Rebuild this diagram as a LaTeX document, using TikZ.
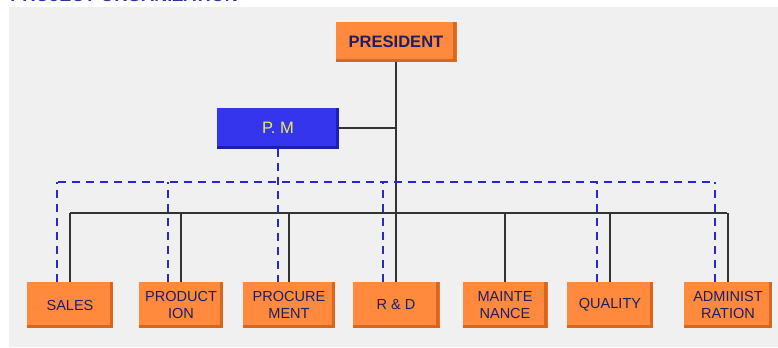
\documentclass[tikz,border=0pt]{standalone}
\usepackage{fontspec}
\setmainfont{Liberation Sans}
\definecolor{panel}{HTML}{F0F0F0}
\definecolor{boxor}{HTML}{FF8A3D}
\definecolor{boxdk}{HTML}{D9661E}
\definecolor{pmblue}{HTML}{3535EE}
\definecolor{pmdk}{HTML}{1E1EB0}
\definecolor{navy}{HTML}{1E1E66}
\definecolor{dashblue}{HTML}{2828C8}
\definecolor{titleblue}{HTML}{3030A0}
\definecolor{pmtext}{HTML}{EEEE50}
\begin{document}
\begin{tikzpicture}[x=0.75pt,y=-0.75pt,
  unitbox/.style={inner sep=0pt, align=center, text=navy,
    font=\fontsize{10.9}{12.75}\selectfont,
    minimum height=34.5pt, fill=boxor,
    path picture={
      \fill[boxdk] ([xshift=-2.5pt]path picture bounding box.north east) rectangle (path picture bounding box.south east);
      \fill[boxdk] ([yshift=2.5pt]path picture bounding box.south west) rectangle (path picture bounding box.south east);
    }},
  topbox/.style={unitbox, font=\bfseries\fontsize{12.4}{14}\selectfont, minimum width=90.75pt, minimum height=30pt},
  pmbox/.style={inner sep=0pt, text=pmtext, fill=pmblue, font=\fontsize{12.4}{14}\selectfont,
    minimum width=91.5pt, minimum height=30.75pt,
    path picture={
      \fill[pmdk] ([xshift=-2pt]path picture bounding box.north east) rectangle (path picture bounding box.south east);
      \fill[pmdk] ([yshift=2pt]path picture bounding box.south west) rectangle (path picture bounding box.south east);
    }},
  solidline/.style={draw=black!80, line width=1.1pt},
  dashline/.style={draw=dashblue, line width=1.5pt, dash pattern=on 6pt off 4.5pt},
]
\useasboundingbox (0,0) rectangle (778,347);
\fill[panel] (9,7) rectangle (778,347);
\node[anchor=base west, text=titleblue, font=\bfseries\fontsize{13.5}{15}\selectfont, inner sep=0pt] (title) at (10,1.5) {PROJECT ORGANIZATION};

\node[topbox] (pres) at (396,42) {PRESIDENT};
\node[pmbox] (pm) at (278,128) {P. M};

\node[unitbox, minimum width=64.5pt] (sales) at (70,305) {SALES};
\node[unitbox, minimum width=63pt] (prod) at (181,305) {PRODUCT\\ION};
\node[unitbox, minimum width=69pt] (proc) at (289,305) {PROCURE\\MENT};
\node[unitbox, minimum width=65.25pt] (rd) at (396,305) {R \& D};
\node[unitbox, minimum width=63.75pt] (maint) at (505,305) {MAINTE\\NANCE};
\node[unitbox, minimum width=64.5pt] (qual) at (610,305) {QUALITY};
\node[unitbox, minimum width=66pt] (admin) at (728,305) {ADMINIST\\RATION};

\coordinate (busL) at (70,213);
\coordinate (busR) at (727,213);
\coordinate (dbusL) at (58,182);
\coordinate (dbusR) at (714,182);

% solid lines
\draw[solidline] (pres.south) -- (rd.north);
\draw[solidline] (pm.east) -- (pm.east -| pres.south);
\draw[solidline] (busL) -- (busR);
\foreach \n in {sales,prod,proc,maint,qual,admin}
  \draw[solidline] (\n.north) -- (\n.north |- busL);

% dashed lines
\draw[dashline] (dbusL) -- (dbusR);
\draw[dashline] (pm.south) -- (pm.south |- proc.north);
\foreach \n in {sales,prod,rd,qual,admin}
  \draw[dashline] ([xshift=-9.5pt]\n.north) -- ([xshift=-9.5pt]\n.north |- dbusL);
\end{tikzpicture}
\end{document}
